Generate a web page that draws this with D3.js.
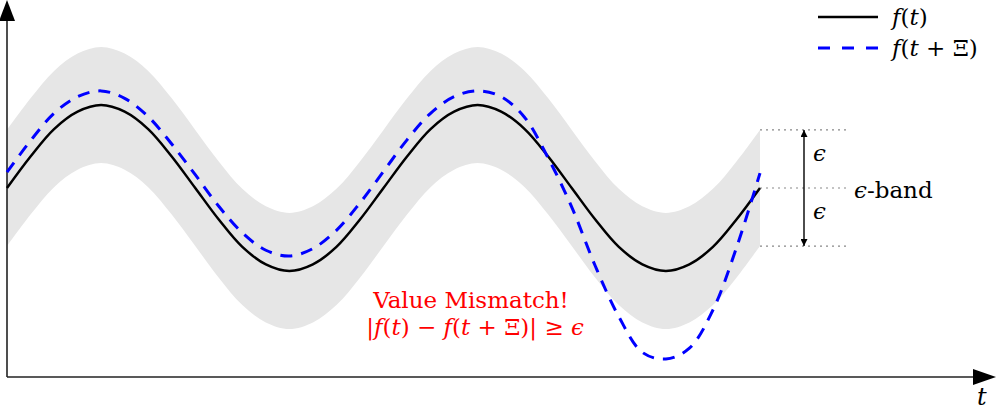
<!DOCTYPE html>
<html>
<head>
<meta charset="utf-8">
<script src="https://cdn.jsdelivr.net/npm/d3@7"></script>
<style>
  html, body { margin: 0; padding: 0; background: #fff; }
  svg { display: block; }
  text { font-family: "DejaVu Serif", "Liberation Serif", serif; }
</style>
</head>
<body>
<svg id="chart" width="996" height="418"></svg>
<script>
// ---- data (t in units of pi/4) ----
const tValues = [0,0.5,1,1.5,2,2.5,3,3.5,4,4.5,5,5.5,6,6.5,7,7.5,8,8.5,9,9.5,10,10.5,11,11.5,12,12.5,13,13.5,14,14.5,15,15.5,16];
const fValues = [0,0.38,0.71,0.92,1,0.92,0.71,0.38,0,-0.38,-0.71,-0.92,-1,-0.92,-0.71,-0.38,0,0.38,0.71,0.92,1,0.92,0.71,0.38,0,-0.38,-0.71,-0.92,-1,-0.92,-0.71,-0.38,0];
const shiftedValues = [0.19,0.57,0.9,1.1,1.17,1.08,0.86,0.53,0.16,-0.22,-0.54,-0.75,-0.82,-0.73,-0.51,-0.18,0.2,0.58,0.9,1.1,1.17,1.1,0.85,0.36,-0.23,-0.94,-1.55,-1.98,-2.06,-1.93,-1.47,-0.72,0.18];
const epsilon = 0.7;
const legendLabels = ["f(t)", "f(t + Ξ)"];
const mismatchLabels = ["Value Mismatch!", "|f(t) − f(t + Ξ)| ≥ ϵ"];

const svg = d3.select("#chart");
const x = d3.scaleLinear().domain([0, 16]).range([7, 760]);
const y = d3.scaleLinear().domain([-1, 1]).range([271, 105]);

const pts = tValues.map((t, i) => ({ t, f: fValues[i], g: shiftedValues[i] }));
const curve = d3.curveCatmullRom.alpha(0.5);
const FS = 23;

// band
svg.append("path")
  .datum(pts)
  .attr("fill", "#e6e6e6")
  .attr("d", d3.area().curve(curve)
    .x(d => x(d.t))
    .y0(d => y(d.f - epsilon))
    .y1(d => y(d.f + epsilon)));

// defs: arrowheads
const defs = svg.append("defs");
defs.append("marker").attr("id", "tip")
  .attr("viewBox", "0 0 10 10").attr("refX", 10).attr("refY", 5)
  .attr("markerWidth", 9).attr("markerHeight", 7)
  .attr("markerUnits", "userSpaceOnUse")
  .attr("orient", "auto-start-reverse")
  .append("path").attr("d", "M0,0 L10,5 L0,10 Z").attr("fill", "#000");

// axes
const x0 = 7, yAxisY = 377;
svg.append("line").attr("x1", x0).attr("y1", yAxisY).attr("x2", 975).attr("y2", yAxisY)
  .attr("stroke", "#222").attr("stroke-width", 1.6);
svg.append("path").attr("d", `M996,${yAxisY} L973,${yAxisY - 8} L973,${yAxisY + 8} Z`).attr("fill", "#000");
svg.append("line").attr("x1", x0).attr("y1", yAxisY).attr("x2", x0).attr("y2", 20)
  .attr("stroke", "#222").attr("stroke-width", 1.6);
svg.append("path").attr("d", `M${x0},0 L${x0 - 8},21 L${x0 + 8},21 Z`).attr("fill", "#000");
svg.append("text").attr("x", 977).attr("y", 405).attr("font-size", FS + 1)
  .attr("font-style", "italic").text("t");

// dotted epsilon guides
const endT = tValues[tValues.length - 1];
const endF = fValues[fValues.length - 1];
[endF + epsilon, endF, endF - epsilon].forEach(v => {
  svg.append("line")
    .attr("x1", x(endT)).attr("x2", x(endT) + 88)
    .attr("y1", y(v)).attr("y2", y(v))
    .attr("stroke", "#888").attr("stroke-width", 1.2)
    .attr("stroke-dasharray", "2,4");
});

// curves
svg.append("path").datum(pts)
  .attr("fill", "none").attr("stroke", "#000").attr("stroke-width", 2.5)
  .attr("d", d3.line().curve(curve).x(d => x(d.t)).y(d => y(d.f)));
svg.append("path").datum(pts)
  .attr("fill", "none").attr("stroke", "#0000ff").attr("stroke-width", 3)
  .attr("stroke-dasharray", "12,9")
  .attr("d", d3.line().curve(curve).x(d => x(d.t)).y(d => y(d.g)));

// double arrow
svg.append("line")
  .attr("x1", 804).attr("x2", 804)
  .attr("y1", y(endF + epsilon)).attr("y2", y(endF - epsilon))
  .attr("stroke", "#000").attr("stroke-width", 1.4)
  .attr("marker-start", "url(#tip)").attr("marker-end", "url(#tip)");

// epsilon labels
function mathText(sel, parts) {
  parts.forEach(p => {
    sel.append("tspan").attr("font-style", p[1] ? "italic" : "normal").text(p[0]);
  });
}
svg.append("text").attr("x", 813).attr("y", 161).attr("font-size", FS)
  .attr("font-style", "italic").text("ϵ");
svg.append("text").attr("x", 813).attr("y", 219).attr("font-size", FS)
  .attr("font-style", "italic").text("ϵ");
const bandT = svg.append("text").attr("x", 854).attr("y", 198).attr("font-size", FS);
mathText(bandT, [["ϵ", true], ["-band", false]]);

// legend
svg.append("line").attr("x1", 818).attr("x2", 878).attr("y1", 17).attr("y2", 17)
  .attr("stroke", "#000").attr("stroke-width", 2.5);
svg.append("line").attr("x1", 818).attr("x2", 878).attr("y1", 48).attr("y2", 48)
  .attr("stroke", "#0000ff").attr("stroke-width", 3).attr("stroke-dasharray", "12,12");
const l1 = svg.append("text").attr("x", 892).attr("y", 25).attr("font-size", FS);
mathText(l1, [["f", true], ["(", false], ["t", true], [")", false]]);
const l2 = svg.append("text").attr("x", 892).attr("y", 56).attr("font-size", FS);
mathText(l2, [["f", true], ["(", false], ["t", true], [" + Ξ)", false]]);

// mismatch annotation
svg.append("text").attr("x", 471).attr("y", 308).attr("font-size", FS)
  .attr("text-anchor", "middle").attr("fill", "#ff0000").text(mismatchLabels[0]);
const m2 = svg.append("text").attr("x", 475).attr("y", 335).attr("font-size", FS)
  .attr("text-anchor", "middle").attr("fill", "#ff0000");
mathText(m2, [["|", false], ["f", true], ["(", false], ["t", true], [") − ", false],
  ["f", true], ["(", false], ["t", true], [" + Ξ)| ≥ ", false], ["ϵ", true]]);
</script>
</body>
</html>
